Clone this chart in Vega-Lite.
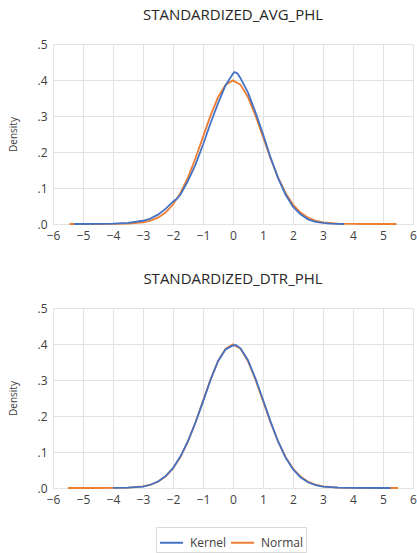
{
  "$schema": "https://vega.github.io/schema/vega-lite/v6.json",
  "padding": {"left": 8, "top": 8, "right": 0, "bottom": 0},
  "background": "white",
  "datasets": {
    "d": [
      {"panel": "AVG", "series": "Normal", "x": -5.45, "y": 0},
      {"panel": "AVG", "series": "Normal", "x": -5, "y": 0},
      {"panel": "AVG", "series": "Normal", "x": -4.5, "y": 0.00002},
      {"panel": "AVG", "series": "Normal", "x": -4, "y": 0.0001},
      {"panel": "AVG", "series": "Normal", "x": -3.5, "y": 0.0009},
      {"panel": "AVG", "series": "Normal", "x": -3, "y": 0.0044},
      {"panel": "AVG", "series": "Normal", "x": -2.75, "y": 0.0091},
      {"panel": "AVG", "series": "Normal", "x": -2.5, "y": 0.0175},
      {"panel": "AVG", "series": "Normal", "x": -2.25, "y": 0.0317},
      {"panel": "AVG", "series": "Normal", "x": -2, "y": 0.054},
      {"panel": "AVG", "series": "Normal", "x": -1.75, "y": 0.0863},
      {"panel": "AVG", "series": "Normal", "x": -1.5, "y": 0.1295},
      {"panel": "AVG", "series": "Normal", "x": -1.25, "y": 0.1826},
      {"panel": "AVG", "series": "Normal", "x": -1, "y": 0.242},
      {"panel": "AVG", "series": "Normal", "x": -0.75, "y": 0.3011},
      {"panel": "AVG", "series": "Normal", "x": -0.5, "y": 0.3521},
      {"panel": "AVG", "series": "Normal", "x": -0.25, "y": 0.3867},
      {"panel": "AVG", "series": "Normal", "x": 0, "y": 0.3989},
      {"panel": "AVG", "series": "Normal", "x": 0.25, "y": 0.3867},
      {"panel": "AVG", "series": "Normal", "x": 0.5, "y": 0.3521},
      {"panel": "AVG", "series": "Normal", "x": 0.75, "y": 0.3011},
      {"panel": "AVG", "series": "Normal", "x": 1, "y": 0.242},
      {"panel": "AVG", "series": "Normal", "x": 1.25, "y": 0.1826},
      {"panel": "AVG", "series": "Normal", "x": 1.5, "y": 0.1295},
      {"panel": "AVG", "series": "Normal", "x": 1.75, "y": 0.0863},
      {"panel": "AVG", "series": "Normal", "x": 2, "y": 0.054},
      {"panel": "AVG", "series": "Normal", "x": 2.25, "y": 0.0317},
      {"panel": "AVG", "series": "Normal", "x": 2.5, "y": 0.0175},
      {"panel": "AVG", "series": "Normal", "x": 2.75, "y": 0.0091},
      {"panel": "AVG", "series": "Normal", "x": 3, "y": 0.0044},
      {"panel": "AVG", "series": "Normal", "x": 3.5, "y": 0.0009},
      {"panel": "AVG", "series": "Normal", "x": 4, "y": 0.0001},
      {"panel": "AVG", "series": "Normal", "x": 4.5, "y": 0.00002},
      {"panel": "AVG", "series": "Normal", "x": 5, "y": 0},
      {"panel": "AVG", "series": "Normal", "x": 5.45, "y": 0},

      {"panel": "AVG", "series": "Kernel", "x": -5.3, "y": 0},
      {"panel": "AVG", "series": "Kernel", "x": -4.5, "y": 0.0005},
      {"panel": "AVG", "series": "Kernel", "x": -4, "y": 0.001},
      {"panel": "AVG", "series": "Kernel", "x": -3.5, "y": 0.003},
      {"panel": "AVG", "series": "Kernel", "x": -3, "y": 0.009},
      {"panel": "AVG", "series": "Kernel", "x": -2.75, "y": 0.015},
      {"panel": "AVG", "series": "Kernel", "x": -2.5, "y": 0.026},
      {"panel": "AVG", "series": "Kernel", "x": -2.25, "y": 0.042},
      {"panel": "AVG", "series": "Kernel", "x": -2, "y": 0.062},
      {"panel": "AVG", "series": "Kernel", "x": -1.85, "y": 0.072},
      {"panel": "AVG", "series": "Kernel", "x": -1.75, "y": 0.082},
      {"panel": "AVG", "series": "Kernel", "x": -1.5, "y": 0.12},
      {"panel": "AVG", "series": "Kernel", "x": -1.25, "y": 0.165},
      {"panel": "AVG", "series": "Kernel", "x": -1, "y": 0.22},
      {"panel": "AVG", "series": "Kernel", "x": -0.75, "y": 0.28},
      {"panel": "AVG", "series": "Kernel", "x": -0.5, "y": 0.335},
      {"panel": "AVG", "series": "Kernel", "x": -0.25, "y": 0.385},
      {"panel": "AVG", "series": "Kernel", "x": 0, "y": 0.418},
      {"panel": "AVG", "series": "Kernel", "x": 0.05, "y": 0.422},
      {"panel": "AVG", "series": "Kernel", "x": 0.15, "y": 0.418},
      {"panel": "AVG", "series": "Kernel", "x": 0.25, "y": 0.405},
      {"panel": "AVG", "series": "Kernel", "x": 0.5, "y": 0.365},
      {"panel": "AVG", "series": "Kernel", "x": 0.75, "y": 0.31},
      {"panel": "AVG", "series": "Kernel", "x": 1, "y": 0.25},
      {"panel": "AVG", "series": "Kernel", "x": 1.25, "y": 0.185},
      {"panel": "AVG", "series": "Kernel", "x": 1.5, "y": 0.128},
      {"panel": "AVG", "series": "Kernel", "x": 1.75, "y": 0.082},
      {"panel": "AVG", "series": "Kernel", "x": 2, "y": 0.048},
      {"panel": "AVG", "series": "Kernel", "x": 2.25, "y": 0.027},
      {"panel": "AVG", "series": "Kernel", "x": 2.5, "y": 0.013},
      {"panel": "AVG", "series": "Kernel", "x": 2.75, "y": 0.006},
      {"panel": "AVG", "series": "Kernel", "x": 3, "y": 0.003},
      {"panel": "AVG", "series": "Kernel", "x": 3.25, "y": 0.001},
      {"panel": "AVG", "series": "Kernel", "x": 3.7, "y": 0},

      {"panel": "DTR", "series": "Normal", "x": -5.5, "y": 0},
      {"panel": "DTR", "series": "Normal", "x": -5, "y": 0},
      {"panel": "DTR", "series": "Normal", "x": -4.5, "y": 0.00002},
      {"panel": "DTR", "series": "Normal", "x": -4, "y": 0.0001},
      {"panel": "DTR", "series": "Normal", "x": -3.5, "y": 0.0009},
      {"panel": "DTR", "series": "Normal", "x": -3, "y": 0.0044},
      {"panel": "DTR", "series": "Normal", "x": -2.75, "y": 0.0091},
      {"panel": "DTR", "series": "Normal", "x": -2.5, "y": 0.0175},
      {"panel": "DTR", "series": "Normal", "x": -2.25, "y": 0.0317},
      {"panel": "DTR", "series": "Normal", "x": -2, "y": 0.054},
      {"panel": "DTR", "series": "Normal", "x": -1.75, "y": 0.0863},
      {"panel": "DTR", "series": "Normal", "x": -1.5, "y": 0.1295},
      {"panel": "DTR", "series": "Normal", "x": -1.25, "y": 0.1826},
      {"panel": "DTR", "series": "Normal", "x": -1, "y": 0.242},
      {"panel": "DTR", "series": "Normal", "x": -0.75, "y": 0.3011},
      {"panel": "DTR", "series": "Normal", "x": -0.5, "y": 0.3521},
      {"panel": "DTR", "series": "Normal", "x": -0.25, "y": 0.3867},
      {"panel": "DTR", "series": "Normal", "x": 0, "y": 0.3989},
      {"panel": "DTR", "series": "Normal", "x": 0.25, "y": 0.3867},
      {"panel": "DTR", "series": "Normal", "x": 0.5, "y": 0.3521},
      {"panel": "DTR", "series": "Normal", "x": 0.75, "y": 0.3011},
      {"panel": "DTR", "series": "Normal", "x": 1, "y": 0.242},
      {"panel": "DTR", "series": "Normal", "x": 1.25, "y": 0.1826},
      {"panel": "DTR", "series": "Normal", "x": 1.5, "y": 0.1295},
      {"panel": "DTR", "series": "Normal", "x": 1.75, "y": 0.0863},
      {"panel": "DTR", "series": "Normal", "x": 2, "y": 0.054},
      {"panel": "DTR", "series": "Normal", "x": 2.25, "y": 0.0317},
      {"panel": "DTR", "series": "Normal", "x": 2.5, "y": 0.0175},
      {"panel": "DTR", "series": "Normal", "x": 2.75, "y": 0.0091},
      {"panel": "DTR", "series": "Normal", "x": 3, "y": 0.0044},
      {"panel": "DTR", "series": "Normal", "x": 3.5, "y": 0.0009},
      {"panel": "DTR", "series": "Normal", "x": 4, "y": 0.0001},
      {"panel": "DTR", "series": "Normal", "x": 4.5, "y": 0.00002},
      {"panel": "DTR", "series": "Normal", "x": 5, "y": 0},
      {"panel": "DTR", "series": "Normal", "x": 5.5, "y": 0},

      {"panel": "DTR", "series": "Kernel", "x": -4, "y": 0.0003},
      {"panel": "DTR", "series": "Kernel", "x": -3.5, "y": 0.001},
      {"panel": "DTR", "series": "Kernel", "x": -3, "y": 0.004},
      {"panel": "DTR", "series": "Kernel", "x": -2.75, "y": 0.009},
      {"panel": "DTR", "series": "Kernel", "x": -2.5, "y": 0.018},
      {"panel": "DTR", "series": "Kernel", "x": -2.25, "y": 0.033},
      {"panel": "DTR", "series": "Kernel", "x": -2, "y": 0.055},
      {"panel": "DTR", "series": "Kernel", "x": -1.75, "y": 0.088},
      {"panel": "DTR", "series": "Kernel", "x": -1.5, "y": 0.13},
      {"panel": "DTR", "series": "Kernel", "x": -1.25, "y": 0.182},
      {"panel": "DTR", "series": "Kernel", "x": -1, "y": 0.24},
      {"panel": "DTR", "series": "Kernel", "x": -0.75, "y": 0.3},
      {"panel": "DTR", "series": "Kernel", "x": -0.5, "y": 0.352},
      {"panel": "DTR", "series": "Kernel", "x": -0.25, "y": 0.385},
      {"panel": "DTR", "series": "Kernel", "x": 0, "y": 0.396},
      {"panel": "DTR", "series": "Kernel", "x": 0.1, "y": 0.397},
      {"panel": "DTR", "series": "Kernel", "x": 0.25, "y": 0.388},
      {"panel": "DTR", "series": "Kernel", "x": 0.5, "y": 0.355},
      {"panel": "DTR", "series": "Kernel", "x": 0.75, "y": 0.304},
      {"panel": "DTR", "series": "Kernel", "x": 1, "y": 0.245},
      {"panel": "DTR", "series": "Kernel", "x": 1.25, "y": 0.185},
      {"panel": "DTR", "series": "Kernel", "x": 1.5, "y": 0.13},
      {"panel": "DTR", "series": "Kernel", "x": 1.75, "y": 0.085},
      {"panel": "DTR", "series": "Kernel", "x": 2, "y": 0.052},
      {"panel": "DTR", "series": "Kernel", "x": 2.25, "y": 0.03},
      {"panel": "DTR", "series": "Kernel", "x": 2.5, "y": 0.016},
      {"panel": "DTR", "series": "Kernel", "x": 2.75, "y": 0.008},
      {"panel": "DTR", "series": "Kernel", "x": 3, "y": 0.004},
      {"panel": "DTR", "series": "Kernel", "x": 3.5, "y": 0.001},
      {"panel": "DTR", "series": "Kernel", "x": 4, "y": 0.0002},
      {"panel": "DTR", "series": "Kernel", "x": 5.25, "y": 0}
    ]
  },
  "data": {"name": "d"},
  "config": {
    "font": "Open Sans",
    "view": {"stroke": null},
    "concat": {"spacing": 31},
    "axis": {
      "grid": true,
      "gridColor": "#e2e2e2",
      "gridWidth": 1,
      "domain": false,
      "ticks": false,
      "labelColor": "#404040",
      "labelFontSize": 12,
      "labelOverlap": false,
      "labelFlush": false,
      "titleColor": "#404040",
      "titleFontSize": 10,
      "titleFontWeight": "normal"
    },
    "title": {"fontSize": 15, "fontWeight": "normal", "color": "#262626", "frame": "group", "anchor": "middle", "offset": 15},
    "legend": {"labelFontSize": 12, "labelColor": "#404040"}
  },
  "resolve": {"scale": {"color": "shared"}, "legend": {"color": "shared"}},
  "vconcat": [
    {
      "title": "STANDARDIZED_AVG_PHL",
      "width": 360,
      "height": 180,
      "transform": [{"filter": "datum.panel == 'AVG'"}],
      "encoding": {
        "x": {"field": "x", "type": "quantitative", "scale": {"domain": [-6, 6], "nice": false}, "axis": {"values": [-6,-5,-4,-3,-2,-1,0,1,2,3,4,5,6], "title": null, "labelPadding": 6}},
        "y": {"field": "y", "type": "quantitative", "scale": {"domain": [0, 0.5], "nice": false}, "axis": {"values": [0,0.1,0.2,0.3,0.4,0.5], "labelExpr": "substring(format(datum.value, '.1f'), 1)", "title": "Density", "labelPadding": 6, "titlePadding": 18}},
        "color": {"field": "series", "type": "nominal", "scale": {"domain": ["Kernel", "Normal"], "range": ["#4472C4", "#ED7D31"]}, "legend": {"title": null, "orient": "none", "legendX": 103, "legendY": 483, "direction": "horizontal", "symbolType": "stroke", "symbolSize": 529, "symbolStrokeWidth": 2, "strokeColor": "#d9d9d9", "padding": 3, "columnPadding": 0, "labelOffset": 6}}
      },
      "layer": [
        {"transform": [{"filter": "datum.series == 'Normal'"}], "mark": {"type": "line", "strokeWidth": 1.8}},
        {"transform": [{"filter": "datum.series == 'Kernel'"}], "mark": {"type": "line", "strokeWidth": 1.8}}
      ]
    },
    {
      "title": "STANDARDIZED_DTR_PHL",
      "width": 360,
      "height": 180,
      "transform": [{"filter": "datum.panel == 'DTR'"}],
      "encoding": {
        "x": {"field": "x", "type": "quantitative", "scale": {"domain": [-6, 6], "nice": false}, "axis": {"values": [-6,-5,-4,-3,-2,-1,0,1,2,3,4,5,6], "title": null, "labelPadding": 6}},
        "y": {"field": "y", "type": "quantitative", "scale": {"domain": [0, 0.5], "nice": false}, "axis": {"values": [0,0.1,0.2,0.3,0.4,0.5], "labelExpr": "substring(format(datum.value, '.1f'), 1)", "title": "Density", "labelPadding": 6, "titlePadding": 18}},
        "color": {"field": "series", "type": "nominal", "scale": {"domain": ["Kernel", "Normal"], "range": ["#4472C4", "#ED7D31"]}}
      },
      "layer": [
        {"transform": [{"filter": "datum.series == 'Normal'"}], "mark": {"type": "line", "strokeWidth": 1.8}},
        {"transform": [{"filter": "datum.series == 'Kernel'"}], "mark": {"type": "line", "strokeWidth": 1.8}}
      ]
    }
  ]
}
